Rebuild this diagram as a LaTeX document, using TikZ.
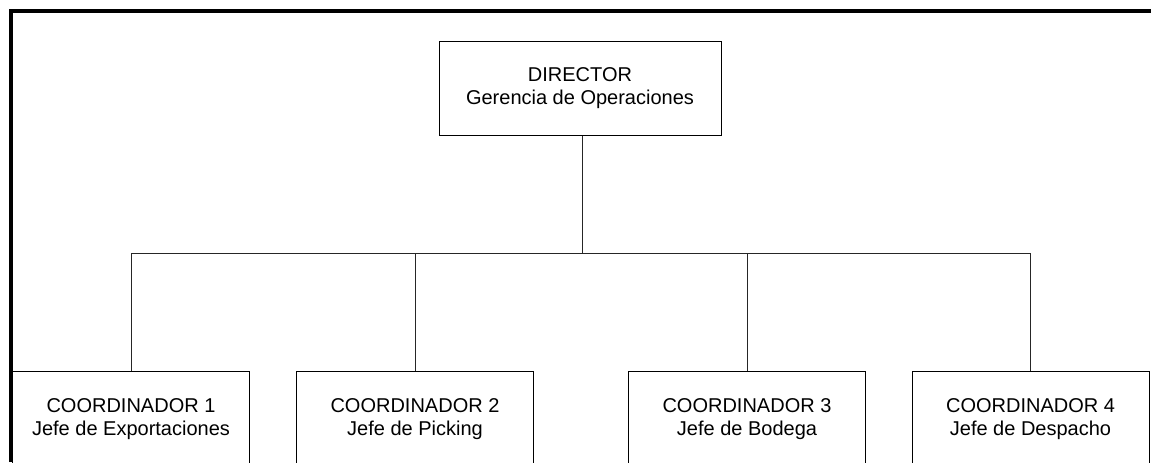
\documentclass[tikz,border=0pt]{standalone}
\usepackage{fontspec}
\setmainfont{Liberation Sans}

\tikzset{every picture/.style={line width=0.75pt}}
\tikzset{
  unitbox/.style={draw, fill=white, align=center, inner sep=0pt, font=\fontsize{15}{17.25}\selectfont},
  dirbox/.style={unitbox, minimum width=211.5pt, minimum height=70.5pt},
  coordbox/.style={unitbox, minimum width=177.75pt, minimum height=72pt},
  link/.style={draw=black!85}
}

\begin{document}
\begin{tikzpicture}[x=0.75pt,y=0.75pt,yscale=-1,xscale=1]

\clip (0,0) rectangle (1151,462);

%% ---------------- management ----------------
\node [dirbox] (director) at (580,88) {DIRECTOR\\Gerencia de Operaciones};

%% ---------------- coordinators ----------------
\node [coordbox] (coord1) at (131,419) {COORDINADOR 1\\Jefe de Exportaciones};
\node [coordbox] (coord2) at (415,419) {COORDINADOR 2\\Jefe de Picking};
\node [coordbox] (coord3) at (747,419) {COORDINADOR 3\\Jefe de Bodega};
\node [coordbox] (coord4) at (1030.5,419) {COORDINADOR 4\\Jefe de Despacho};

%% ---------------- connectors ----------------
\coordinate (bus) at (582,253);
\draw [link] (director.south -| bus) -- (bus);
\draw [link] (coord1.north) -- (coord1.north |- bus) -- (coord4.north |- bus) -- (coord4.north);
\draw [link] (coord2.north) -- (coord2.north |- bus);
\draw [link] (coord3.north) -- (coord3.north |- bus);

%% ---------------- page frame ----------------
\draw [line width=3pt] (11,462) -- (11,11) -- (1151,11);

\end{tikzpicture}
\end{document}
